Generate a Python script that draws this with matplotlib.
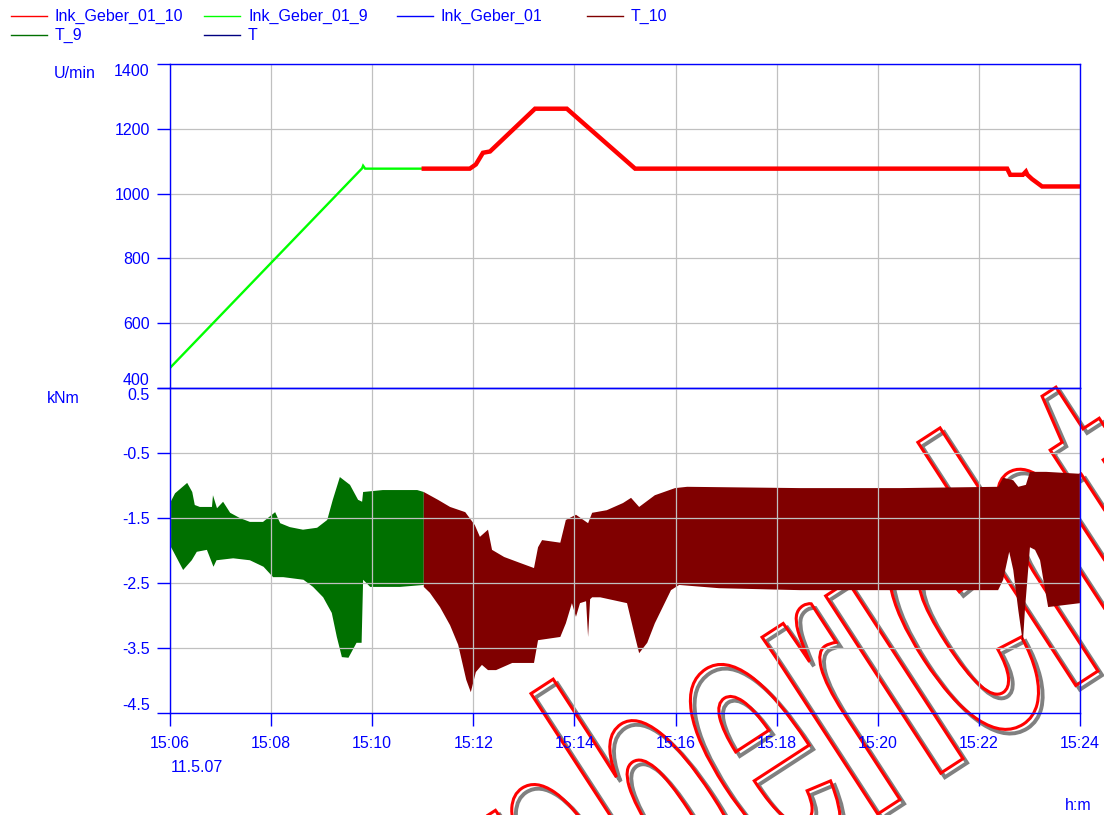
import numpy as np
import matplotlib
matplotlib.use("Agg")
import matplotlib.pyplot as plt
from matplotlib.lines import Line2D
from matplotlib.patches import PathPatch
from matplotlib.textpath import TextPath
from matplotlib.font_manager import FontProperties
from matplotlib.transforms import Affine2D, IdentityTransform
import matplotlib.patheffects as pe

plt.rcParams['font.family'] = ['Liberation Sans', 'DejaVu Sans']
plt.rcParams['font.size'] = 11.5

W, H = 1104, 815
BLUE = '#0000ff'
GRID = '#c0c0c0'

# time axis: minutes after 15:00
# --- speed [U/min] ---
t_geber9 = [6.00, 9.80, 9.82, 9.86, 11.02]
v_geber9 = [462, 1078, 1086, 1077, 1077]

t_geber10 = [11.02, 11.93, 12.05, 12.19, 12.33, 13.22, 13.85, 15.20, 22.56, 22.62,
             22.87, 22.93, 22.96, 23.05, 23.25, 24.00]
v_geber10 = [1077, 1077, 1090, 1126, 1130, 1262, 1262, 1077, 1077, 1058,
             1058, 1068, 1058, 1045, 1022, 1022]

# --- torque [kNm], envelope of the oscillating signal ---
t9_up = [6.00, 6.10, 6.34, 6.44, 6.49, 6.59, 6.83, 6.85, 6.93, 7.05, 7.19, 7.38, 7.58,
         7.84, 8.08, 8.18, 8.37, 8.63, 8.91, 9.11, 9.22, 9.36, 9.56, 9.72, 9.80, 9.82,
         10.21, 10.89, 11.02]
v9_up = [-1.27, -1.12, -0.96, -1.10, -1.30, -1.33, -1.33, -1.15, -1.35, -1.25, -1.42,
         -1.50, -1.56, -1.56, -1.41, -1.58, -1.64, -1.68, -1.65, -1.53, -1.22, -0.87,
         -0.99, -1.22, -1.25, -1.10, -1.07, -1.07, -1.10]
t9_lo = [6.00, 6.07, 6.26, 6.43, 6.53, 6.73, 6.86, 6.92, 7.25, 7.58, 7.85, 8.04, 8.24,
         8.64, 8.83, 9.03, 9.20, 9.30, 9.40, 9.53, 9.69, 9.79, 9.82, 9.96, 10.55, 11.02]
v9_lo = [-1.92, -2.02, -2.30, -2.15, -2.02, -1.99, -2.25, -2.15, -2.12, -2.15, -2.25,
         -2.41, -2.41, -2.45, -2.56, -2.72, -2.96, -3.33, -3.64, -3.65, -3.42, -3.42,
         -2.45, -2.56, -2.56, -2.53]

t10_up = [11.02, 11.30, 11.54, 11.84, 12.03, 12.13, 12.29, 12.37, 12.61, 12.92, 13.20,
          13.28, 13.36, 13.72, 13.83, 14.03, 14.27, 14.35, 14.64, 14.96, 15.12, 15.28,
          15.59, 15.99, 16.23, 18.46, 20.44, 22.38, 22.48, 22.68, 22.78, 22.93, 23.01,
          23.33, 24.00]
v10_up = [-1.10, -1.22, -1.33, -1.41, -1.61, -1.79, -1.68, -1.99, -2.10, -2.19, -2.27,
          -1.95, -1.84, -1.88, -1.53, -1.45, -1.58, -1.42, -1.38, -1.27, -1.19, -1.33,
          -1.15, -1.04, -1.02, -1.04, -1.04, -1.02, -0.88, -0.92, -1.02, -0.99, -0.79,
          -0.79, -0.82]
t10_lo = [11.02, 11.14, 11.34, 11.54, 11.70, 11.86, 11.95, 12.05, 12.17, 12.29, 12.45,
          12.77, 13.20, 13.28, 13.72, 13.83, 13.95, 14.03, 14.11, 14.23, 14.27, 14.31,
          14.35, 14.51, 15.04, 15.20, 15.28, 15.44, 15.59, 15.91, 16.07, 16.86, 18.46,
          20.44, 22.38, 22.48, 22.60, 22.68, 22.78, 22.87, 22.91, 23.01, 23.11, 23.21,
          23.31, 23.37, 24.00]
v10_lo = [-2.56, -2.65, -2.87, -3.15, -3.45, -3.99, -4.18, -3.87, -3.76, -3.84, -3.84,
          -3.73, -3.73, -3.38, -3.33, -3.12, -2.81, -3.02, -2.81, -2.78, -3.33, -2.75,
          -2.72, -2.72, -2.81, -3.33, -3.58, -3.42, -3.12, -2.61, -2.53, -2.58, -2.61,
          -2.61, -2.61, -2.45, -2.02, -2.30, -2.92, -3.42, -2.92, -1.95, -1.99, -2.15,
          -2.61, -2.87, -2.81]

legend_names = ['Ink_Geber_01_10', 'Ink_Geber_01_9', 'Ink_Geber_01', 'T_10', 'T_9', 'T']
legend_colors = ['#ff0000', '#00ff00', '#0000ff', '#800000', '#007000', '#000080']

x_ticks = list(range(6, 25, 2))
x_labels = ['15:%02d' % m for m in x_ticks]


def fx(x):
    return x / W


def fy(y):
    return 1 - y / H


fig = plt.figure(figsize=(W / 100, H / 100), dpi=100)

ax1 = fig.add_axes([fx(170), fy(388), fx(910), (388 - 64) / H])
ax2 = fig.add_axes([fx(170), fy(713), fx(910), (713 - 388) / H])

for ax in (ax1, ax2):
    ax.set_facecolor('none')
    ax.set_xlim(6, 24)
    ax.set_xticks(x_ticks)
    ax.grid(True, color=GRID, lw=0.9)
    for s in ax.spines.values():
        s.set_color(BLUE)
        s.set_linewidth(1.0)
    ax.tick_params(axis='both', colors=BLUE, length=9.5, width=1.0, direction='out',
                   labelsize=11.5, labelcolor=BLUE)
    ax.tick_params(axis='y', pad=5)

ax1.set_ylim(400, 1400)
ax1.set_yticks(range(400, 1401, 200))
ax1.tick_params(axis='x', bottom=False, labelbottom=False)

ax2.set_ylim(-4.5, 0.5)
ax2.set_yticks(np.arange(-4.5, 0.6, 1.0))
ax2.set_yticklabels(['%.1f' % v for v in np.arange(-4.5, 0.6, 1.0)])
ax2.set_xticklabels(x_labels)
ax2.tick_params(axis='x', pad=7)

# keep the edge labels inside the axis range
ylab1 = ax1.get_yticklabels()
ylab1[0].set_verticalalignment('bottom')
ylab1[-1].set_verticalalignment('top')
ylab2 = ax2.get_yticklabels()
ylab2[0].set_verticalalignment('bottom')
ylab2[-1].set_verticalalignment('top')

# speed curves
ax1.plot(t_geber9, v_geber9, color='#00ff00', lw=1.7, solid_joinstyle='miter')
ax1.plot(t_geber10, v_geber10, color='#ff0000', lw=3.2, solid_joinstyle='miter')

# torque bands
ax2.fill(np.r_[t9_up, t9_lo[::-1]], np.r_[v9_up, v9_lo[::-1]], color='#007000', lw=0)
ax2.fill(np.r_[t10_up, t10_lo[::-1]], np.r_[v10_up, v10_lo[::-1]], color='#800000', lw=0)

# units and date
fig.text(fx(54), fy(73), 'U/min', color=BLUE, fontsize=11.5, ha='left', va='center')
fig.text(fx(47), fy(398), 'kNm', color=BLUE, fontsize=11.5, ha='left', va='center')
fig.text(fx(171), fy(767), '11.5.07', color=BLUE, fontsize=11.5, ha='left', va='center')
fig.text(fx(1078), fy(806), 'h:m', color=BLUE, fontsize=11.5, ha='center', va='center')

# legend, four columns
col_x = [11, 204, 397, 587]
row_y = [16, 35]
for i, (name, col) in enumerate(zip(legend_names, legend_colors)):
    x0 = col_x[i % 4]
    y0 = row_y[i // 4]
    fig.add_artist(Line2D([fx(x0), fx(x0 + 36)], [fy(y0), fy(y0)], color=col, lw=1.0,
                          transform=fig.transFigure))
    fig.text(fx(x0 + 44), fy(y0), name, color=BLUE, fontsize=11.5, ha='left', va='center')

# watermark: tall outlined text, rotated, under the data
fp = FontProperties(family='Liberation Sans', weight='bold')
tp = TextPath((0, 0), 'Zwischenbericht', size=1, prop=fp)
wm_tr = (Affine2D().scale(193, 400).rotate_deg(33).translate(-60, H - 1423))
wm = PathPatch(tp, transform=wm_tr + IdentityTransform(), facecolor='none',
               edgecolor='#ff0000', lw=2.2, zorder=-1,
               path_effects=[pe.Stroke(offset=(3, -3), foreground='#808080', linewidth=2.8),
                             pe.Normal()])
fig.add_artist(wm)

fig.savefig('out.png', dpi=100)
